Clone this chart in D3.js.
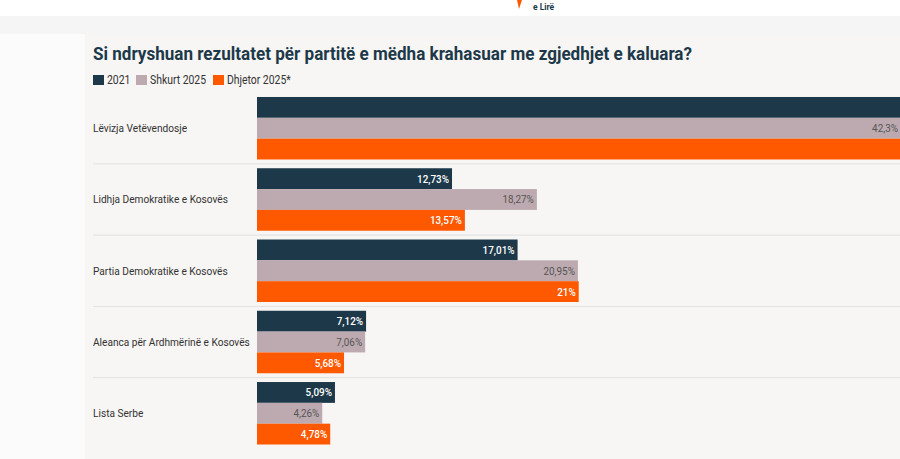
<!DOCTYPE html>
<html>
<head>
<meta charset="utf-8">
<script src="https://cdn.jsdelivr.net/npm/d3@7"></script>
<style>
  html, body { margin: 0; padding: 0; background: #fbfbfb; }
  svg { display: block; font-family: "Roboto", "Lato", sans-serif; }
</style>
</head>
<body>
<svg id="chart" width="900" height="459"></svg>
<script>
// chart data
const parties = [
  "Lëvizja Vetëvendosje",
  "Lidhja Demokratike e Kosovës",
  "Partia Demokratike e Kosovës",
  "Aleanca për Ardhmërinë e Kosovës",
  "Lista Serbe"
];
const seriesNames = ["2021", "Shkurt 2025", "Dhjetor 2025*"];
const values2021 = [50.28, 12.73, 17.01, 7.12, 5.09];
const valuesShkurt = [42.3, 18.27, 20.95, 7.06, 4.26];
const valuesDhjetor = [49.3, 13.57, 21, 5.68, 4.78];

const colors = ["#1d3949", "#bdaab0", "#fe5800"];
const labelColors = ["#ffffff", "#555555", "#ffffff"];
const labelWeights = [500, 400, 500];

const rows = parties.map((p, i) => ({
    party: p,
    vals: [values2021[i], valuesShkurt[i], valuesDhjetor[i]]
}));

const svg = d3.select("#chart");

// squeeze texts horizontally: the reference font is narrower than what is installed
function squeeze(sel, k) {
    sel.each(function () {
        const w = this.getComputedTextLength();
        d3.select(this).attr("textLength", w * k).attr("lengthAdjust", "spacingAndGlyphs");
    });
}
// factor needed so that one sample text gets a given width
function factorFor(sel, target) {
    return target / sel.node().getComputedTextLength();
}

// page chrome: header + grey band + panel
svg.append("rect").attr("x", 0).attr("y", 0).attr("width", 900).attr("height", 16).attr("fill", "#ffffff");
svg.append("rect").attr("x", 0).attr("y", 16).attr("width", 900).attr("height", 18).attr("fill", "#f5f5f5");
svg.append("rect").attr("x", 85).attr("y", 34).attr("width", 815).attr("height", 425).attr("fill", "#f7f6f4");

// logo fragment
svg.append("path").attr("d", "M517,0 L522,0 L519,9 Z").attr("fill", "#fe5800");
svg.append("text").attr("x", 533).attr("y", 10).attr("font-size", 8.5).attr("font-weight", "bold")
    .attr("fill", "#1d3949").text("e Lirë");

// title
const title = svg.append("text").attr("x", 93).attr("y", 60)
    .attr("font-size", 19).attr("font-weight", 700).attr("fill", "#1d3949")
    .text("Si ndryshuan rezultatet për partitë e mëdha krahasuar me zgjedhjet e kaluara?");
squeeze(title, factorFor(title, 599));

// legend
const legendX = [93, 136, 213];
const legend = svg.append("g");
seriesNames.forEach((name, i) => {
    legend.append("rect").attr("x", legendX[i]).attr("y", 75).attr("width", 11).attr("height", 10)
        .attr("fill", colors[i]);
    legend.append("text").attr("x", legendX[i] + 14).attr("y", 84)
        .attr("font-size", 12).attr("fill", "#333").text(name);
});
const legTexts = legend.selectAll("text");
squeeze(legTexts, factorFor(legTexts.filter((d, j) => j === 1), 56));

// scales
const x = d3.scaleLinear().domain([0, 42.3]).range([257, 905]);
const y = d3.scaleBand().domain(parties).range([92.6, 448.9]).paddingInner(0.123).paddingOuter(0.0615);
const yInner = d3.scaleBand().domain(seriesNames).range([0, y.bandwidth()]);

const fmt = v => String(v).replace(".", ",") + "%";

// separators
parties.slice(1).forEach(p => {
    const yy = y(p) - y.step() * y.paddingInner() / 2;
    svg.append("line").attr("x1", 93).attr("x2", 900).attr("y1", yy).attr("y2", yy)
        .attr("stroke", "#e3e1df").attr("stroke-width", 1);
});

const groups = svg.selectAll("g.party")
    .data(rows)
    .join("g")
    .attr("class", "party")
    .attr("transform", d => `translate(0,${y(d.party)})`);

const catLabels = groups.append("text")
    .attr("x", 93)
    .attr("y", y.bandwidth() / 2 + 4)
    .attr("font-size", 11.5)
    .attr("fill", "#333")
    .text(d => d.party);
squeeze(catLabels, factorFor(catLabels.filter((d, i) => i === 0), 94));

groups.selectAll("rect")
    .data(d => d.vals.map((v, i) => ({ v, i })))
    .join("rect")
    .attr("x", x(0))
    .attr("y", d => yInner(seriesNames[d.i]))
    .attr("width", d => x(d.v) - x(0))
    .attr("height", yInner.bandwidth())
    .attr("fill", d => colors[d.i]);

// value labels; those beyond the visible edge are not drawn
const valLabels = groups.selectAll("text.val")
    .data(d => d.vals.map((v, i) => ({ v, i })).filter(e => x(e.v) <= 905))
    .join("text")
    .attr("class", "val")
    .attr("x", d => Math.min(x(d.v) - 3, 898))
    .attr("y", d => yInner(seriesNames[d.i]) + yInner.bandwidth() / 2 + 4)
    .attr("text-anchor", "end")
    .attr("font-size", 11.5)
    .attr("font-weight", d => labelWeights[d.i])
    .attr("fill", d => labelColors[d.i])
    .text(d => fmt(d.v));
squeeze(valLabels, factorFor(valLabels.filter(d => d.v === 12.73), 32));
</script>
</body>
</html>
